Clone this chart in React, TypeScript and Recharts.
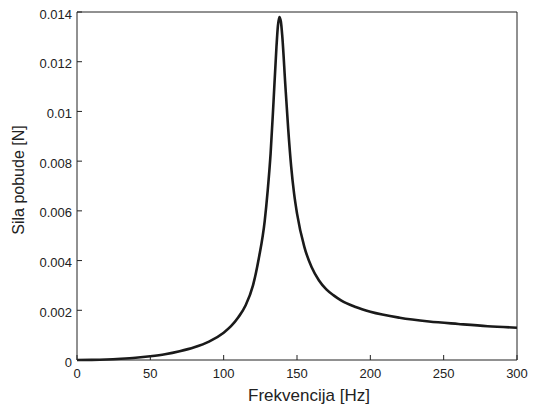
import { LineChart, Line, XAxis, YAxis, Label } from "recharts";

// frequency [Hz] and excitation force [N]
const freq = [
  0, 10, 20, 30, 40, 50, 60, 70, 80, 90, 100, 105, 110, 115, 120, 124, 128, 130, 132, 134, 136, 137, 138,
  139, 140, 142, 144, 146, 148, 150, 155, 160, 165, 170, 175, 180, 190, 200, 220, 240, 260, 280, 300,
];
const force = [
  0, 0.000005, 0.00002, 0.00005, 0.00009, 0.00015, 0.00023, 0.00035, 0.00051, 0.00074, 0.0011, 0.00136,
  0.00172, 0.0022, 0.003, 0.0041, 0.0056, 0.0068, 0.0083, 0.0104, 0.0126, 0.01345, 0.0138,
  0.01362, 0.0130, 0.0111, 0.0093, 0.0078, 0.0067, 0.0059, 0.00455, 0.00373, 0.0032, 0.00284, 0.0026,
  0.0024, 0.00213, 0.00194, 0.0017, 0.00155, 0.00145, 0.00136, 0.0013,
];

const xTicks = [0, 50, 100, 150, 200, 250, 300];
const yTicks = [0, 0.002, 0.004, 0.006, 0.008, 0.01, 0.012, 0.014];

const data = freq.map((f, i) => ({ f, F: force[i] }));

const axisColor = "#222";
const font = "'Liberation Sans', Arial, sans-serif";

const App = () => {
  return (
    <div style={{ position: "absolute", left: 0, top: 0, background: "#fff" }}>
      <LineChart width={536} height={405} data={data} margin={{ top: 11, right: 18, left: 0, bottom: 0 }}>
        <XAxis
          xAxisId="b"
          dataKey="f"
          type="number"
          domain={[0, 300]}
          ticks={xTicks}
          height={45}
          tickSize={-5}
          tickMargin={14}
          stroke={axisColor}
          tick={{ fill: axisColor, fontSize: 13, fontFamily: font }}
          interval={0}
        >
          <Label
            content={() => (
              <text x={309} y={401} textAnchor="middle" fontSize={17} fontFamily={font} fill={axisColor}>
                Frekvencija [Hz]
              </text>
            )}
          />
        </XAxis>
        <XAxis
          xAxisId="t"
          orientation="top"
          dataKey="f"
          type="number"
          domain={[0, 300]}
          ticks={xTicks}
          height={1}
          tickSize={-5}
          tick={false}
          stroke={axisColor}
          interval={0}
        />
        <YAxis
          yAxisId="l"
          type="number"
          domain={[0, 0.014]}
          ticks={yTicks}
          width={77}
          tickSize={-5}
          tickMargin={10}
          stroke={axisColor}
          tick={{ fill: axisColor, fontSize: 13, fontFamily: font, dy: 2 }}
          interval={0}
        >
          <Label
            content={() => (
              <text
                x={23.5}
                y={180}
                textAnchor="middle"
                fontSize={16}
                fontFamily={font}
                fill={axisColor}
                transform="rotate(-90 23.5 180)"
              >
                Sila pobude [N]
              </text>
            )}
          />
        </YAxis>
        <YAxis
          yAxisId="r"
          orientation="right"
          type="number"
          domain={[0, 0.014]}
          ticks={yTicks}
          width={1}
          tickSize={-5}
          tick={false}
          stroke={axisColor}
          interval={0}
        />
        <Line
          xAxisId="t"
          yAxisId="r"
          dataKey="F"
          stroke="none"
          dot={false}
          legendType="none"
          isAnimationActive={false}
        />
        <Line
          xAxisId="b"
          yAxisId="l"
          type="monotone"
          dataKey="F"
          stroke="#1a1a1a"
          strokeWidth={2.6}
          dot={false}
          isAnimationActive={false}
        />
      </LineChart>
    </div>
  );
};

export default App;
